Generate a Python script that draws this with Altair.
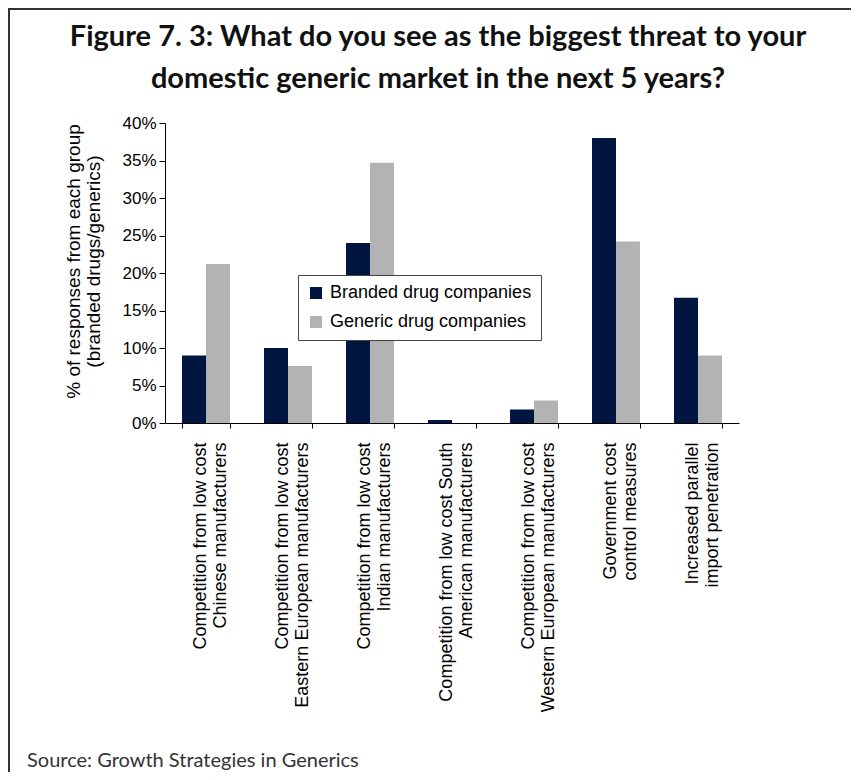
import altair as alt
import pandas as pd

categories = [
    "Competition from low cost|Chinese manufacturers",
    "Competition from low cost|Eastern European manufacturers",
    "Competition from low cost|Indian manufacturers",
    "Competition from low cost South|American manufacturers",
    "Competition from low cost|Western European manufacturers",
    "Government cost|control measures",
    "Increased parallel|import penetration",
]
series = ["Branded drug companies", "Generic drug companies"]
branded = [9.0, 10.0, 24.0, 0.4, 1.8, 38.0, 16.7]
generic = [21.2, 7.6, 34.7, 0.0, 3.0, 24.2, 9.0]
y_ticks = [0, 0.05, 0.10, 0.15, 0.20, 0.25, 0.30, 0.35, 0.40]
title_lines = [
    "Figure 7. 3: What do you see as the biggest threat to your",
    "domestic generic market in the next 5 years?",
]
source_text = "Source: Growth Strategies in Generics"

rows = []
for c, b, g in zip(categories, branded, generic):
    rows.append({"category": c, "series": series[0], "value": b / 100})
    rows.append({"category": c, "series": series[1], "value": g / 100})
df = pd.DataFrame(rows)

W, H = 574, 300
PAD = {"left": 157, "top": 115, "right": 112, "bottom": 764 - 115 - 300}

bars = alt.Chart(df).mark_bar().encode(
    x=alt.X(
        "category:N",
        sort=categories,
        scale=alt.Scale(paddingInner=0.415, paddingOuter=0.2075),
        axis=alt.Axis(
            title=None,
            labelAngle=270,
            labelExpr="split(datum.label, '|')",
            labelLineHeight=20,
            labelFontSize=18,
            labelPadding=14,
            labelOffset=-6,
            labelLimit=400,
            tickBand="extent",
            tickSize=5,
        ),
    ),
    xOffset=alt.XOffset("series:N", sort=series, scale=alt.Scale(paddingInner=0, paddingOuter=0)),
    y=alt.Y(
        "value:Q",
        scale=alt.Scale(domain=[0, 0.4], nice=False),
        axis=alt.Axis(
            values=y_ticks,
            format=".0%",
            title=["% of responses from each group", "(branded drugs/generics)"],
            titleFontSize=19,
            titleFontWeight="normal",
            titleLineHeight=20,
            titlePadding=18,
            titleY=138,
            labelFontSize=17,
            labelPadding=3,
            tickSize=6,
        ),
    ),
    color=alt.Color(
        "series:N",
        sort=series,
        scale=alt.Scale(domain=series, range=["#001540", "#b3b3b3"]),
        legend=alt.Legend(
            title=None,
            orient="none",
            legendX=133,
            legendY=152,
            fillColor="white",
            strokeColor="#444444",
            padding=9,
            symbolType="square",
            symbolSize=144,
            symbolStrokeWidth=0,
            labelFontSize=18,
            labelFont="Liberation Sans",
            labelColor="black",
            labelOffset=5,
            labelLimit=400,
            rowPadding=11,
        ),
    ),
)

one = pd.DataFrame({"k": [0]})
top_line = alt.Chart(one).mark_rule(color="#333333", strokeWidth=2).encode(
    x=alt.value(-157), x2=alt.value(W + PAD["right"]), y=alt.value(-114)
)
left_line = alt.Chart(one).mark_rule(color="#333333", strokeWidth=2).encode(
    x=alt.value(-156), y=alt.value(-115), y2=alt.value(H + PAD["bottom"])
)
title_text = alt.Chart(one).mark_text(
    font="Lato", fontSize=29, fontWeight="bold", color="#111111",
    align="center", baseline="alphabetic", lineHeight=42,
).encode(x=alt.value(W / 2 - 14), y=alt.value(-77), text=alt.value(title_lines))
source = alt.Chart(one).mark_text(
    font="Lato", fontSize=20, color="#333333", align="left", baseline="alphabetic",
).encode(x=alt.value(-138), y=alt.value(644), text=alt.value(source_text))

chart = alt.layer(bars, top_line, left_line, title_text, source).properties(
    width=W,
    height=H,
    padding=PAD,
    autosize=alt.AutoSizeParams(type="none"),
).configure_view(stroke=None).configure_axis(
    labelFont="Liberation Sans",
    titleFont="Liberation Sans",
    labelColor="black",
    titleColor="black",
    domainColor="black",
    tickColor="black",
    grid=False,
)

chart.save("out.html", embed_options={"renderer": "svg", "actions": False})
